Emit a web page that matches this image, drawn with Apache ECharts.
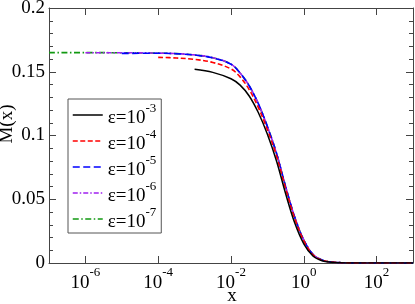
<!DOCTYPE html>
<html><head><meta charset="utf-8">
<script src="https://cdn.jsdelivr.net/npm/echarts@6/dist/echarts.min.js"></script>
<style>html,body{margin:0;padding:0;background:#fff}#c{width:415px;height:304px}</style>
</head><body><div id="c"></div>
<script>
// x values (raw) for the curves
const xMain = [1e-7, 1e-6, 1e-5, 1e-4, 3.16e-4, 1e-3, 3.16e-3, 1e-2, 1.78e-2, 3.16e-2, 5.62e-2, 0.1, 0.178, 0.316, 0.562, 1, 1.78, 3.16, 5.62, 10, 31.6, 100, 1000];
const yEps7 = [0.1650, 0.1650, 0.1649, 0.1646, 0.1642, 0.1632, 0.1610, 0.1560, 0.1490, 0.1390, 0.1250, 0.1070, 0.0860, 0.0600, 0.0360, 0.0180, 0.0068, 0.0023, 0.0008, 0.0003, 0.00005, 0, 0];
const yEps6 = [null, 0.1649, 0.1649, 0.1646, 0.1642, 0.1632, 0.1610, 0.1560, 0.1490, 0.1390, 0.1250, 0.1070, 0.0860, 0.0600, 0.0360, 0.0180, 0.0068, 0.0023, 0.0008, 0.0003, 0.00005, 0, 0];
const yEps5 = [null, null, 0.1644, 0.1645, 0.1641, 0.1631, 0.1609, 0.1559, 0.1490, 0.1390, 0.1250, 0.1070, 0.0860, 0.0600, 0.0360, 0.0180, 0.0068, 0.0023, 0.0008, 0.0003, 0.00005, 0, 0];
const yEps4 = [null, null, null, 0.1613, 0.1608, 0.1597, 0.1573, 0.1522, 0.1460, 0.1360, 0.1220, 0.1045, 0.0840, 0.0585, 0.0350, 0.0175, 0.0065, 0.0022, 0.0008, 0.0003, 0.00005, 0, 0];
const yEps3 = [null, null, null, null, null, 0.1519, 0.1495, 0.1445, 0.1395, 0.1310, 0.1180, 0.1010, 0.0800, 0.0545, 0.0315, 0.0150, 0.0055, 0.0018, 0.0006, 0.0002, 0.00003, 0, 0];
const epsExp = ['-3', '-4', '-5', '-6', '-7'];
const xTicks = [1e-6, 1e-4, 1e-2, 1, 100];
const yTicks = [0, 0.05, 0.1, 0.15, 0.2];

const FONT = 'Liberation Serif';
const colors = ['#000000', '#ff0000', '#0000ff', '#a020f0', '#119911'];
const dashes = ['solid', [5, 2.5], [7, 3.5], [5, 2, 1.5, 2], [6, 2.5, 1.5, 2.5]];
const ys = [yEps3, yEps4, yEps5, yEps6, yEps7];

function pairs(ya) {
  const out = [];
  for (let i = 0; i < xMain.length; i++) if (ya[i] !== null) out.push([xMain[i], ya[i]]);
  return out;
}

const series = ys.map((ya, i) => ({
  name: 'ε=10^' + epsExp[i],
  type: 'line',
  data: pairs(ya),
  showSymbol: false,
  symbol: 'none',
  smooth: 0.35,
  lineStyle: { color: colors[i], width: i === 0 ? 1.5 : 1.6, type: dashes[i] },
  itemStyle: { color: colors[i] },
  z: 10 - i
}));

const axisRich = {
  b: { fontFamily: FONT, fontSize: 19, color: '#000', lineHeight: 34, verticalAlign: 'middle' },
  s: { fontFamily: FONT, fontSize: 13, color: '#000', lineHeight: 10, verticalAlign: 'top' }
};
const legendRich = {
  b: { fontFamily: FONT, fontSize: 19, color: '#000', lineHeight: 26, verticalAlign: 'bottom' },
  s: { fontFamily: FONT, fontSize: 13, color: '#000', lineHeight: 8, verticalAlign: 'top' }
};

const chart = echarts.init(document.getElementById('c'), null, { renderer: 'canvas' });
chart.setOption({
  animation: false,
  grid: { left: 49, top: 8, right: 2, bottom: 41, show: false, containLabel: false, outerBoundsMode: 'none' },
  legend: {
    orient: 'vertical', left: 68, top: 99,
    padding: [3, 5, 1, 4], itemGap: 0, itemWidth: 30, itemHeight: 12,
    borderColor: '#555', borderWidth: 1, backgroundColor: '#fff',
    itemStyle: { opacity: 0 },
    lineStyle: { width: 1.5 },
    data: series.map(s => s.name),
    formatter: function (name) { const e = name.split('^')[1]; return '{b|ε=10}{s|' + e + '}'; },
    textStyle: { rich: legendRich }
  },
  xAxis: [{
    type: 'log', logBase: 10, min: 1e-7, max: 1e3, position: 'bottom',
    axisLine: { onZero: false, lineStyle: { color: '#444', width: 1 } },
    axisTick: { inside: true, length: 7, lineStyle: { color: '#444' }, customValues: xTicks },
    axisLabel: { customValues: xTicks, margin: 3, formatter: function (v) { const e = Math.round(Math.log10(v)); return '{b|10}{s|' + e + '}'; }, rich: axisRich },
    splitLine: { show: false }, minorTick: { show: false }
  }, {
    type: 'log', logBase: 10, min: 1e-7, max: 1e3, position: 'top',
    axisLine: { onZero: false, lineStyle: { color: '#444', width: 1 } },
    axisTick: { inside: true, length: 7, lineStyle: { color: '#444' }, customValues: xTicks },
    axisLabel: { show: false }, splitLine: { show: false }
  }],
  yAxis: [{
    type: 'value', min: 0, max: 0.2, interval: 0.05, position: 'left',
    axisLine: { show: true, onZero: false, lineStyle: { color: '#444', width: 1 } },
    axisTick: { inside: true, length: 7, lineStyle: { color: '#444' } },
    minorTick: { show: true, splitNumber: 5, length: 4, lineStyle: { color: '#444' } },
    axisLabel: { margin: 4, fontFamily: FONT, fontSize: 19, color: '#000' },
    splitLine: { show: false }
  }, {
    type: 'value', min: 0, max: 0.2, interval: 0.05, position: 'right',
    axisLine: { show: true, onZero: false, lineStyle: { color: '#444', width: 1 } },
    axisTick: { inside: true, length: 7, lineStyle: { color: '#444' } },
    minorTick: { show: true, splitNumber: 5, length: 4, lineStyle: { color: '#444' } },
    axisLabel: { show: false }, splitLine: { show: false }
  }],
  graphic: [{
    type: 'text', x: 7, y: 124, rotation: Math.PI / 2,
    style: { text: 'M(x)', fontFamily: FONT, fontSize: 19, fill: '#000', align: 'center', verticalAlign: 'middle' }
  }, {
    type: 'text', x: 232, y: 296,
    style: { text: 'x', fontFamily: FONT, fontSize: 19, fill: '#000', align: 'center', verticalAlign: 'middle' }
  }],
  series: series
});
</script></body></html>
